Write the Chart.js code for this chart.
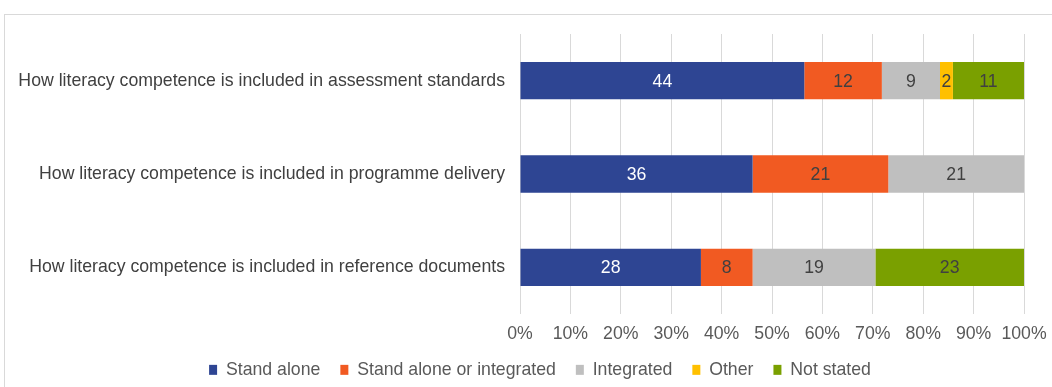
<!DOCTYPE html>
<html>
<head>
<meta charset="utf-8">
<script src="https://cdn.jsdelivr.net/npm/chart.js@4.4.0/dist/chart.umd.min.js"></script>
<style>
  html, body { margin: 0; padding: 0; background: #fff; overflow: hidden; }
  #wrap { position: relative; width: 1052px; height: 387px; }
  #frame { position: absolute; left: 4px; top: 14px; width: 1100px; height: 420px; border: 1px solid #d9d9d9; box-sizing: border-box; }
  canvas { position: absolute; left: 0; top: 0; }
</style>
</head>
<body>
<div id="wrap">
  <div id="frame"></div>
  <canvas id="literacyChart" width="1052" height="387"></canvas>
</div>
<script>
// Catégories (de haut en bas)
const categories = [
    'How literacy competence is included in assessment standards',
    'How literacy competence is included in programme delivery',
    'How literacy competence is included in reference documents'
];

// Nombre de cas par série
const standAlone = [44, 36, 28];
const standAloneOrIntegrated = [12, 21, 8];
const integrated = [9, 21, 19];
const other = [2, 0, 0];
const notStated = [11, 0, 23];

const seriesNames = ['Stand alone', 'Stand alone or integrated', 'Integrated', 'Other', 'Not stated'];
const seriesColors = ['#2e4593', '#f15a22', '#bfbfbf', '#ffc000', '#7aa000'];
const labelColors = ['#ffffff', '#404040', '#404040', '#404040', '#404040'];

const xTicks = [0, 10, 20, 30, 40, 50, 60, 70, 80, 90, 100];

const allSeries = [standAlone, standAloneOrIntegrated, integrated, other, notStated];
const totals = categories.map((_, i) => allSeries.reduce((s, arr) => s + arr[i], 0));

const fontFamily = '"Liberation Sans", Arial, sans-serif';
const fontSize = 17.7;

// Étiquettes de valeurs au centre des barres
const barLabels = {
    id: 'barLabels',
    afterDatasetsDraw(chart) {
        const ctx = chart.ctx;
        ctx.save();
        ctx.font = `${fontSize}px ${fontFamily}`;
        ctx.textAlign = 'center';
        ctx.textBaseline = 'middle';
        chart.data.datasets.forEach((ds, di) => {
            const meta = chart.getDatasetMeta(di);
            meta.data.forEach((bar, i) => {
                const count = ds.counts[i];
                if (!count) return;
                const p = bar.getProps(['x', 'y', 'base'], true);
                ctx.fillStyle = labelColors[di];
                ctx.fillText(String(count), (p.x + p.base) / 2, p.y + 1);
            });
        });
        ctx.restore();
    }
};

// Légende : hauteur fixe et centrée un peu plus à droite, comme l'original
const legendTweak = {
    id: 'legendTweak',
    beforeLayout(chart) {
        const lg = chart.legend;
        if (!lg || lg._patched) return;
        const fit = lg.fit.bind(lg);
        lg.fit = function () { fit(); this.height = 46; };
        lg._patched = true;
    },
    afterLayout(chart) {
        const lg = chart.legend;
        if (!lg) return;
        lg.left += 28; lg.right += 28;
    }
};

new Chart(document.getElementById('literacyChart').getContext('2d'), {
    type: 'bar',
    data: {
        labels: categories,
        datasets: allSeries.map((arr, di) => ({
            label: seriesNames[di],
            counts: arr,
            data: arr.map((v, i) => v / totals[i] * 100),
            backgroundColor: seriesColors[di],
            borderWidth: 0,
            categoryPercentage: 1,
            barPercentage: 0.4
        }))
    },
    options: {
        indexAxis: 'y',
        responsive: false,
        animation: false,
        layout: { padding: { top: 34, right: 28, left: 0, bottom: 0 } },
        scales: {
            x: {
                stacked: true,
                min: 0,
                max: 100,
                border: { display: false },
                grid: { color: '#d9d9d9', drawTicks: false },
                afterBuildTicks: (scale) => { scale.ticks = xTicks.map(v => ({ value: v })); },
                afterFit: (scale) => {
                    scale.height = 27;
                    scale.paddingLeft = 0;
                    scale.paddingRight = 0;
                },
                ticks: {
                    padding: 9,
                    maxRotation: 0,
                    minRotation: 0,
                    autoSkip: false,
                    color: '#595959',
                    font: { family: fontFamily, size: fontSize },
                    callback: (v) => v + '%'
                }
            },
            y: {
                stacked: true,
                border: { display: false },
                grid: { display: false, drawTicks: false },
                afterFit: (scale) => { scale.width = 520; },
                ticks: {
                    padding: 15,
                    color: '#404040',
                    font: { family: fontFamily, size: fontSize }
                }
            }
        },
        plugins: {
            legend: {
                position: 'bottom',
                labels: {
                    boxWidth: 8,
                    boxHeight: 10,
                    padding: 20,
                    color: '#595959',
                    font: { family: fontFamily, size: fontSize }
                }
            },
            tooltip: {
                callbacks: {
                    label: (context) => {
                        const n = context.dataset.counts[context.dataIndex];
                        return `${context.dataset.label}: ${n} (${context.parsed.x.toFixed(1)}%)`;
                    }
                }
            }
        }
    },
    plugins: [barLabels, legendTweak]
});
</script>
</body>
</html>
